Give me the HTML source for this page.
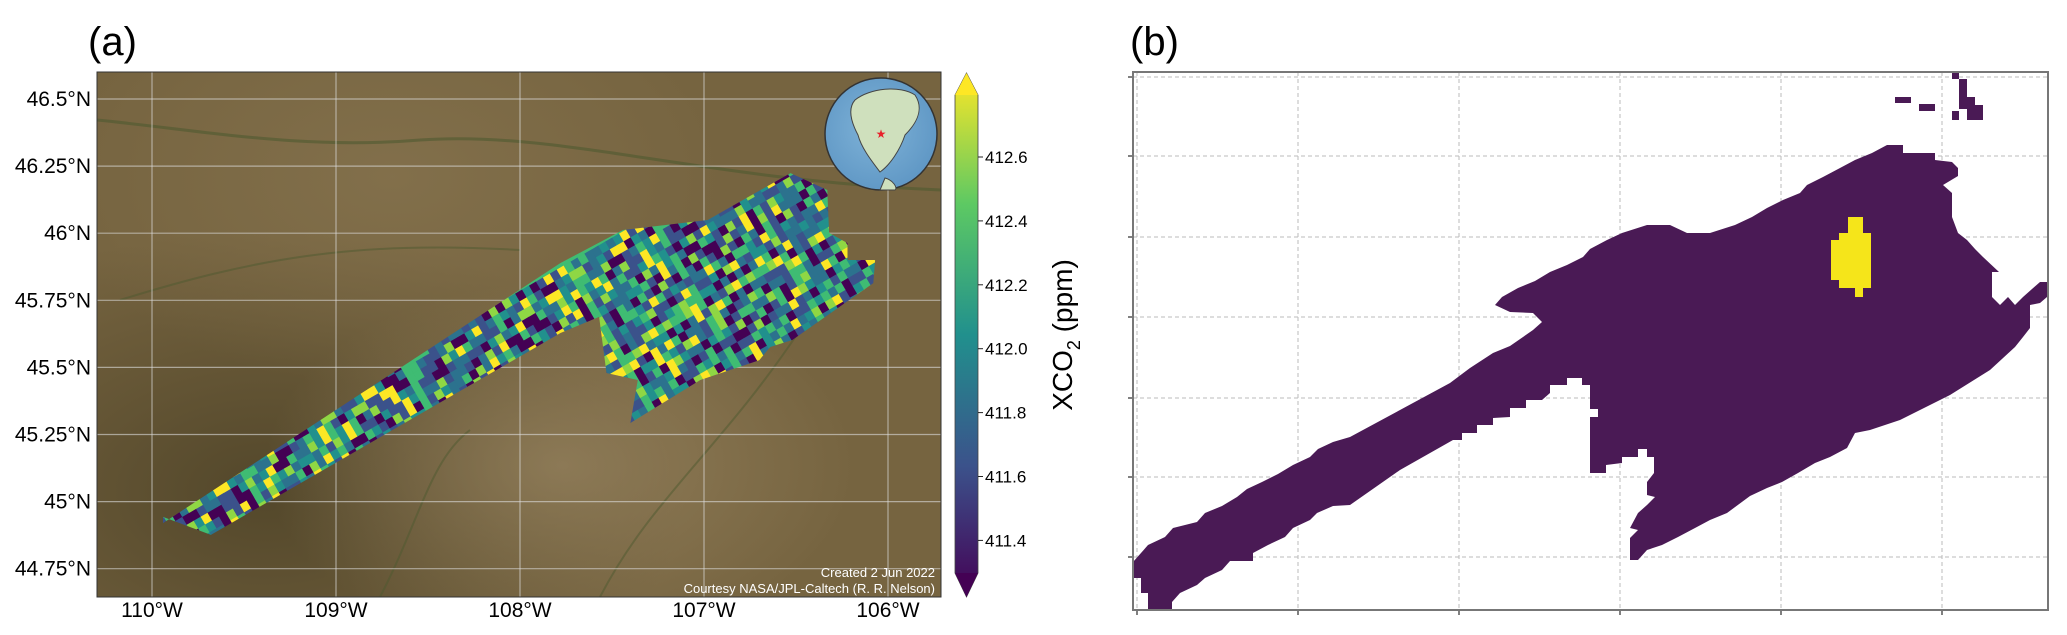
<!DOCTYPE html>
<html><head><meta charset="utf-8"><style>
html,body{margin:0;padding:0;background:#fff;overflow:hidden;width:2067px;height:635px}
svg{display:block;font-family:"Liberation Sans",sans-serif}
</style></head><body>
<svg id="fig" width="2067" height="635" viewBox="0 0 2067 635">
<defs>
<linearGradient id="cbar" x1="0" y1="1" x2="0" y2="0">
<stop offset="0" stop-color="#440154"/><stop offset="0.25" stop-color="#3b528b"/><stop offset="0.5" stop-color="#21908d"/><stop offset="0.75" stop-color="#5dc963"/><stop offset="1" stop-color="#fde725"/>
</linearGradient>
<radialGradient id="bg1" cx="0.2" cy="0.8" r="0.5"><stop offset="0" stop-color="#4f4428" stop-opacity="0.9"/><stop offset="1" stop-color="#4f4428" stop-opacity="0"/></radialGradient>
<radialGradient id="bg2" cx="0.55" cy="0.75" r="0.35"><stop offset="0" stop-color="#9a8662" stop-opacity="0.7"/><stop offset="1" stop-color="#9a8662" stop-opacity="0"/></radialGradient>
<radialGradient id="bg3" cx="0.35" cy="0.2" r="0.4"><stop offset="0" stop-color="#8a7752" stop-opacity="0.6"/><stop offset="1" stop-color="#8a7752" stop-opacity="0"/></radialGradient>
<clipPath id="mapclip"><rect x="97" y="72" width="844" height="525"/></clipPath>
<clipPath id="swathclip"><path id="swathpath" d=""/></clipPath>
<radialGradient id="globe" cx="0.45" cy="0.45" r="0.6"><stop offset="0" stop-color="#7fb3d8"/><stop offset="1" stop-color="#5e96c4"/></radialGradient>
</defs>

<text x="88" y="55" font-size="40">(a)</text>
<text x="1130" y="55" font-size="40">(b)</text>

<g id="mapA">
<rect x="97" y="72" width="844" height="525" fill="#766440"/>
<g clip-path="url(#mapclip)">
<rect x="97" y="72" width="844" height="525" fill="url(#bg1)"/>
<rect x="97" y="72" width="844" height="525" fill="url(#bg2)"/>
<rect x="97" y="72" width="844" height="525" fill="url(#bg3)"/>
<path d="M97,120 C200,130 300,150 420,140 C560,130 700,180 941,190" stroke="#4e5a30" stroke-width="3" fill="none" opacity="0.6"/>
<path d="M120,300 C250,260 350,240 520,250" stroke="#4e5a30" stroke-width="2" fill="none" opacity="0.5"/>
<path d="M600,597 C650,500 720,450 800,330" stroke="#4e5a30" stroke-width="2" fill="none" opacity="0.5"/>
<path d="M380,597 C420,520 430,460 470,430" stroke="#4e5a30" stroke-width="2" fill="none" opacity="0.5"/>
<g id="gridA"></g>
<g id="swath" clip-path="url(#swathclip)"></g>
<g>
<circle cx="881" cy="134" r="56" fill="url(#globe)" stroke="#333" stroke-width="1.5"/>
<path d="M855,100 C870,88 900,85 915,95 C925,110 915,125 905,135 C900,150 890,165 880,172 C875,165 862,150 858,135 C850,120 848,108 855,100Z" fill="#cfe0bd" stroke="#444" stroke-width="1"/>
<path d="M885,178 C893,180 898,188 895,190 L880,190Z" fill="#cfe0bd" stroke="#444" stroke-width="1"/>
<text x="881" y="138" font-size="12" fill="#e8202a" text-anchor="middle">★</text>
</g>
<text x="935" y="577" font-size="13" fill="#fff" text-anchor="end">Created 2 Jun 2022</text>
<text x="935" y="593" font-size="13" fill="#fff" text-anchor="end">Courtesy NASA/JPL-Caltech (R. R. Nelson)</text>
</g>
<rect x="97" y="72" width="844" height="525" fill="none" stroke="#333" stroke-width="1"/>
</g>
<g id="axesA"></g>

<g id="colorbar">
<path d="M955,95 L966.5,73 L978,95 L978,573 L966.5,597 L955,573Z" fill="url(#cbar)" stroke="#444" stroke-width="0.8"/>
<path d="M955,95 L966.5,73 L978,95Z" fill="#fde725"/>
<path d="M955,573 L966.5,597 L978,573Z" fill="#440154"/>
</g>
<g id="cbticks"></g>
<text transform="translate(1072,335) rotate(-90)" font-size="28" text-anchor="middle">XCO<tspan font-size="18" dy="8">2</tspan><tspan dy="-8"> (ppm)</tspan></text>

<g id="panelB">
<g id="gridB"></g>
<path id="plume" fill="#4a1a55" d=""/>
<g id="islands"></g>
<path id="hotspot" fill="#f5e51a" d=""/>
<path d="M1133,72 L2048,72 L2048,610 L1133,610Z" fill="none" stroke="#777" stroke-width="2"/>
</g>
</svg>
<script>
const NS="http://www.w3.org/2000/svg";
const lonTicks=[-110,-109,-108,-107,-106];
const lonLabels=["110°W","109°W","108°W","107°W","106°W"];
const latTicks=[46.5,46.25,46,45.75,45.5,45.25,45,44.75];
const latLabels=["46.5°N","46.25°N","46°N","45.75°N","45.5°N","45.25°N","45°N","44.75°N"];
const cbTicks=[412.6,412.4,412.2,412.0,411.8,411.6,411.4];
const cbLabels=["412.6","412.4","412.2","412.0","411.8","411.6","411.4"];
const swathLon=[-109.94,-109.94,-107.78,-107.44,-106.98,-106.53,-106.33,-106.32,-106.22,-106.22,-106.07,-106.08,-106.52,-106.64,-106.70,-107.02,-107.40,-107.36,-107.53,-107.57,-107.78,-109.68];
const swathLat=[44.943,44.92,45.889,46.012,46.049,46.224,46.161,46.001,45.963,45.900,45.900,45.814,45.602,45.576,45.527,45.453,45.293,45.453,45.479,45.688,45.628,44.876];
const cellCodes=[2,0,3,1,4,2,6,1,0,3,5,2,1,6,3,0,4,2,1,5,0,6,2,3,1,4,0,2,5,1,3,6,0,2,4,1];
const plumeX=[1133,1141,1148,1165,1173,1197,1205,1222,1237,1247,1262,1278,1293,1310,1318,1333,1350,1400,1450,1470,1493,1510,1533,1542,1533,1510,1495,1502,1518,1535,1550,1567,1583,1590,1607,1622,1647,1670,1687,1710,1735,1752,1767,1783,1800,1807,1823,1840,1855,1872,1887,1903,1903,1935,1935,1952,1958,1958,1943,1952,1952,1958,1967,1975,1983,1999,1992,1992,2000,2008,2015,2023,2032,2040,2047,2047,2040,2030,2030,2023,2015,1990,1950,1900,1870,1855,1847,1830,1815,1798,1782,1767,1750,1727,1710,1695,1678,1662,1647,1638,1630,1630,1638,1630,1638,1647,1655,1647,1647,1654,1654,1647,1647,1638,1638,1622,1622,1606,1606,1590,1590,1598,1598,1590,1590,1582,1582,1567,1567,1550,1550,1542,1526,1526,1510,1510,1493,1493,1477,1477,1462,1462,1453,1400,1350,1333,1317,1310,1293,1285,1268,1253,1253,1230,1222,1205,1197,1180,1172,1172,1148,1148,1141,1141,1133];
const plumeY=[562,553,545,537,528,522,513,506,497,489,482,474,465,457,449,442,437,410,383,368,353,346,330,322,313,312,305,297,288,281,272,265,257,249,240,233,225,225,233,233,225,217,208,200,193,185,177,168,160,153,145,145,153,153,160,162,168,176,185,193,217,233,240,249,257,272,272,297,305,297,305,297,289,282,282,297,303,305,328,337,347,370,395,420,430,433,448,457,463,473,482,488,496,513,520,528,537,545,550,560,560,538,530,528,513,505,497,495,482,473,457,457,449,449,457,457,463,465,473,473,417,417,409,409,385,385,378,378,385,385,393,400,400,408,408,417,418,425,425,433,433,440,440,470,505,506,513,520,528,537,545,553,561,561,570,578,585,593,602,610,610,593,593,578,578];
const hotX=[1848,1863,1863,1871,1871,1863,1863,1855,1855,1839,1839,1831,1831,1839,1839,1848];
const hotY=[217,217,233,233,288,288,297,297,288,288,280,280,240,240,233,233];
const islandRects=[[1895,97,16,6],[1919,104,16,7],[1952,72,7,7],[1959,79,8,30],[1967,97,8,23],[1975,105,8,15],[1952,111,7,9]];

const X0=152, DX=184;
const lx=lon=>X0+(lon+110)*DX;
const ly=lat=>99+(46.5-lat)/0.25*67.1;
const cy=v=>157+(412.6-v)/0.2*63.9;
function mk(tag,attrs,parent){const e=document.createElementNS(NS,tag);for(const k in attrs)e.setAttribute(k,attrs[k]);parent.appendChild(e);return e;}

const gA=document.getElementById('gridA'), axA=document.getElementById('axesA');
lonTicks.forEach((t,i)=>{
  const l=mk('line',{x1:lx(t),x2:lx(t),y1:72,y2:597,stroke:'#ddd','stroke-width':1.2,opacity:0.6},gA);
  
  
  const tx=mk('text',{x:lx(t),y:617,'font-size':21,'text-anchor':'middle'},axA);
  tx.textContent=lonLabels[i];
  
  
});
latTicks.forEach((t,i)=>{
  const l=mk('line',{x1:97,x2:941,y1:ly(t),y2:ly(t),stroke:'#ddd','stroke-width':1.2,opacity:0.6},gA);
  
  
  const tx=mk('text',{x:91,y:ly(t)+7,'font-size':21,'text-anchor':'end'},axA);
  tx.textContent=latLabels[i];
  
  
});
const cbt=document.getElementById('cbticks');
cbTicks.forEach((v,i)=>{
  mk('line',{x1:978,x2:983,y1:cy(v),y2:cy(v),stroke:'#222'},cbt);
  const tx=mk('text',{x:985,y:cy(v)+6,'font-size':17},cbt);
  tx.textContent=cbLabels[i];
  
  
});
let d='M'+swathLon.map((lo,i)=>lx(lo).toFixed(1)+','+ly(swathLat[i]).toFixed(1)).join(' L')+'Z';
document.getElementById('swathpath').setAttribute('d',d);
const colors=['#440154','#3b528b','#2c728e','#21908d','#3fbc73','#8fd744','#fde725'];
const sw=document.getElementById('swath');
const cg=mk('g',{transform:'rotate(-30 550 330)'},sw);


const ca=Math.cos(Math.PI/6), sa=Math.sin(Math.PI/6);
for(let r=0;r<70;r++){for(let c=0;c<130;c++){
  const x=50+c*8, y=20+r*9;
  const dx=x+4-550, dy=y+4.5-330;
  const rx=550+dx*ca+dy*sa, ry=330-dx*sa+dy*ca;
  if(rx<140||rx>900||ry<150||ry<0||ry>560)continue;
  const code=cellCodes[(r*7+c*11+((r*c)>>2))%cellCodes.length];
  mk('rect',{x:x,y:y,width:8.3,height:9.3,fill:colors[code]},cg);
}}
const gB=document.getElementById('gridB');
const bGx=[1137,1298,1459,1620,1781,1942];
const bGy=[77,156,237,317,398,477,557];
bGx.forEach(x=>{mk('line',{x1:x,x2:x,y1:72,y2:610,stroke:'#bbb','stroke-dasharray':'4,3','stroke-width':1},gB);
  mk('line',{x1:x,x2:x,y1:610,y2:615,stroke:'#555','stroke-width':1.5},gB);});
bGy.forEach(y=>{mk('line',{x1:1133,x2:2048,y1:y,y2:y,stroke:'#bbb','stroke-dasharray':'4,3','stroke-width':1},gB);
  mk('line',{x1:1128,x2:1133,y1:y,y2:y,stroke:'#555','stroke-width':1.5},gB);});
document.getElementById('plume').setAttribute('d','M'+plumeX.map((x,i)=>x+','+plumeY[i]).join(' L')+'Z');
document.getElementById('hotspot').setAttribute('d','M'+hotX.map((x,i)=>x+','+hotY[i]).join(' L')+'Z');
const isl=document.getElementById('islands');
islandRects.forEach(r=>{
  const e=mk('rect',{x:r[0],y:r[1],width:r[2],height:r[3],fill:'#4a1a55'},isl);
  
  
});
</script>
</body></html>
